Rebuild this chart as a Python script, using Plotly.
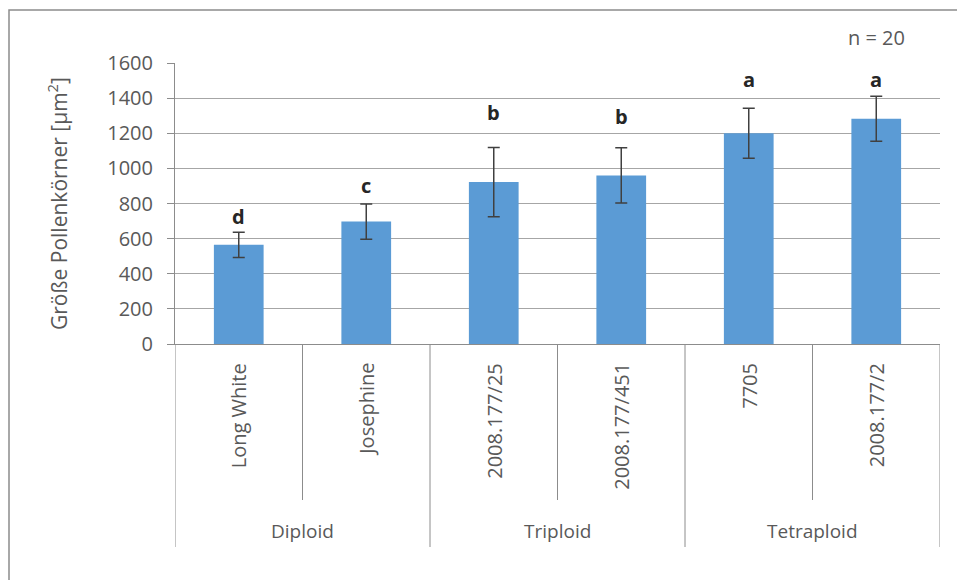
import plotly.graph_objects as go

# Pollen grain size per variety, grouped by ploidy level
varieties = ["Long White", "Josephine", "2008.177/25", "2008.177/451", "7705", "2008.177/2"]
groups = ["Diploid", "Diploid", "Triploid", "Triploid", "Tetraploid", "Tetraploid"]
mean_size = [565, 697, 922, 960, 1200, 1282]
std_dev = [72, 100, 197, 157, 143, 128]
letters = ["d", "c", "b", "b", "a", "a"]
y_ticks = [0, 200, 400, 600, 800, 1000, 1200, 1400, 1600]

# vertical placement of the significance letters (data units)
letter_heights = [726, 903, 1319, 1296, 1506, 1506]

W, H = 957, 580
L, R, T, B = 175, 17, 63, 236
plot_w = W - L - R
plot_h = H - T - B


def py(pixel_y):
    """Convert a page pixel row into a paper y coordinate."""
    return (H - B - pixel_y) / plot_h


def px(pixel_x):
    return (pixel_x - L) / plot_w


FONT = "Open Sans"
GRAY = "#595959"
DARK = "#404040"
LINE = "#8c8c8c"
GRID = "#a6a6a6"

fig = go.Figure()
fig.add_trace(go.Bar(
    x=list(range(len(varieties))),
    y=mean_size,
    customdata=varieties,
    hovertemplate="%{customdata}: %{y}<extra></extra>",
    marker=dict(color="#5B9BD5", line=dict(width=0)),
    error_y=dict(type="data", array=std_dev, symmetric=True,
                 color=DARK, thickness=1.5, width=6),
))

annotations = []
# significance letters above each bar (x given as category index)
for i, (lt, hy) in enumerate(zip(letters, letter_heights)):
    annotations.append(dict(
        x=i, y=hy, xref="x", yref="y", text=lt, showarrow=False,
        font=dict(family=FONT, size=20, color="#262626", weight="bold"),
        xanchor="center", yanchor="middle"))

# rotated variety labels under the axis
for i, v in enumerate(varieties):
    annotations.append(dict(
        x=i, y=py(361), xref="x", yref="paper", text=v, showarrow=False,
        textangle=-90, font=dict(family=FONT, size=20, color=GRAY),
        xanchor="center", yanchor="top"))

# group labels centred under their varieties
shapes = []
unique_groups = list(dict.fromkeys(groups))
for g in unique_groups:
    idx = [i for i, gg in enumerate(groups) if gg == g]
    centre = (idx[0] + idx[-1]) / 2
    annotations.append(dict(
        x=centre, y=py(531), xref="x", yref="paper", text=g, showarrow=False,
        font=dict(family=FONT, size=19, color=GRAY),
        xanchor="center", yanchor="middle"))

# divider lines: short between varieties, long at group boundaries
for i in range(len(varieties) + 1):
    xb = i - 0.5
    if i == 0 or i == len(varieties) or groups[i - 1] != groups[i]:
        y_end = py(547)
    else:
        y_end = py(500)
    shapes.append(dict(type="line", xref="x", yref="paper",
                       x0=xb, x1=xb, y0=0, y1=y_end,
                       line=dict(color=LINE, width=1)))

# outer chart border (runs off the right and bottom of the page)
shapes.append(dict(type="rect", xref="paper", yref="paper",
                   x0=px(9), x1=px(975), y0=py(600), y1=py(10),
                   line=dict(color=LINE, width=1.5), fillcolor="rgba(0,0,0,0)",
                   layer="below"))

annotations.append(dict(
    x=px(57), y=py(204), xref="paper", yref="paper",
    text="Größe Pollenkörner [µm<sup>2</sup>]", showarrow=False, textangle=-90,
    font=dict(family=FONT, size=21, color=GRAY),
    xanchor="center", yanchor="middle"))

annotations.append(dict(
    x=px(907), y=py(37), xref="paper", yref="paper", text="n = 20",
    showarrow=False, font=dict(family=FONT, size=20, color=GRAY),
    xanchor="right", yanchor="middle"))

fig.update_layout(
    width=W, height=H,
    margin=dict(l=L, r=R, t=T, b=B, autoexpand=False),
    paper_bgcolor="white", plot_bgcolor="white",
    bargap=0.61,
    showlegend=False,
    xaxis=dict(range=[-0.5, len(varieties) - 0.5],
               showticklabels=False, ticks="", showgrid=False,
               showline=True, linecolor=LINE, linewidth=1, zeroline=False,
               fixedrange=True),
    yaxis=dict(range=[0, 1600], tickvals=y_ticks,
               ticktext=[str(t) for t in y_ticks],
               showgrid=True, gridcolor=GRID, gridwidth=1,
               showline=True, linecolor=LINE, linewidth=1,
               ticks="outside", ticklen=7, tickcolor=LINE,
               ticklabelstandoff=10, zeroline=False,
               tickfont=dict(family=FONT, size=20, color=GRAY),
               fixedrange=True),
    annotations=annotations,
    shapes=shapes,
)

fig.write_html("out.html")
